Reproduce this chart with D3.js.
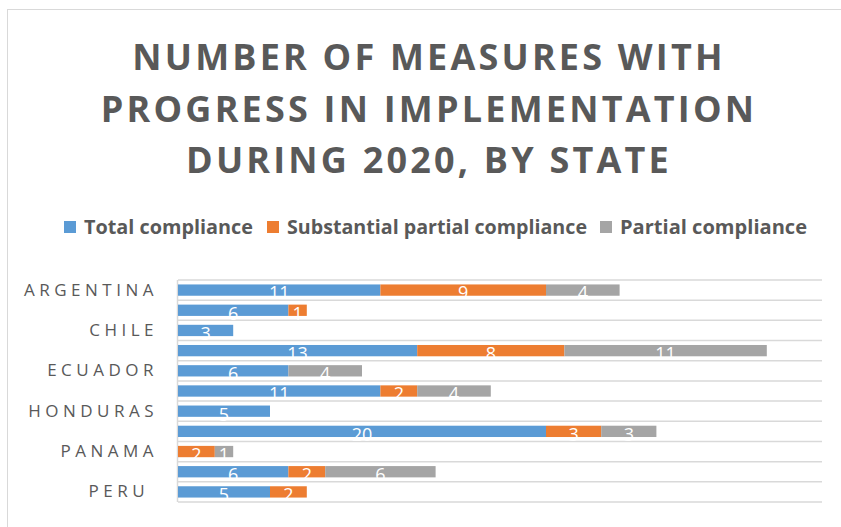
<!DOCTYPE html>
<html>
<head>
<meta charset="utf-8">
<script src="https://cdn.jsdelivr.net/npm/d3@7"></script>
<style>
  body { margin: 0; background: #fff; }
  svg { display: block; font-family: "Open Sans", "Liberation Sans", sans-serif; }
</style>
</head>
<body>
<script>
// données (de haut en bas)
const states = ["Argentina", "Bolivia", "Chile", "Colombia", "Ecuador", "Guatemala",
                "Honduras", "Mexico", "Panama", "Paraguay", "Peru "];
const shownStates = ["Argentina", "Chile", "Ecuador", "Honduras", "Panama", "Peru "];
const totalCompliance       = [11, 6, 3, 13, 6, 11, 5, 20, 0, 6, 5];
const substantialCompliance = [9, 1, 0, 8, 0, 2, 0, 3, 2, 2, 2];
const partialCompliance     = [4, 0, 0, 11, 4, 4, 0, 3, 1, 6, 0];
const seriesNames = ["Total compliance", "Substantial partial compliance", "Partial compliance"];
const seriesColors = ["#5b9bd5", "#ed7d31", "#a5a5a5"];
const titleLines = ["NUMBER OF MEASURES WITH", "PROGRESS IN IMPLEMENTATION", "DURING 2020, BY STATE"];
const xMax = 35;

const width = 841, height = 527;
const margin = { top: 280, right: 19, bottom: 25, left: 178 };

const svg = d3.select("body").append("svg")
    .attr("width", width)
    .attr("height", height);

// cadre du graphique
svg.append("rect")
    .attr("x", 7.5).attr("y", 9.5)
    .attr("width", 900).attr("height", 600)
    .attr("fill", "none")
    .attr("stroke", "#d9d9d9");

// titre
svg.append("text")
    .attr("text-anchor", "middle")
    .attr("fill", "#595959")
    .style("font-weight", "700")
    .style("font-size", "36px")
    .style("letter-spacing", "3.2px")
    .selectAll("tspan")
    .data(titleLines)
    .enter().append("tspan")
    .attr("x", 429)
    .attr("y", (d, i) => 70 + i * 51.5)
    .text(d => d);

// légende
const legendX = [64, 267, 600];
const legendW = [169, 300, 187];
const legend = svg.append("g");
seriesNames.forEach((name, i) => {
    legend.append("rect")
        .attr("x", legendX[i]).attr("y", 221)
        .attr("width", 12).attr("height", 12)
        .attr("fill", seriesColors[i]);
    legend.append("text")
        .attr("x", legendX[i] + 20)
        .attr("y", 234)
        .attr("fill", "#595959")
        .attr("textLength", legendW[i])
        .attr("lengthAdjust", "spacingAndGlyphs")
        .style("font-weight", "700")
        .style("font-size", "19px")
        .text(name);
});

const table = states.map((s, i) => ({
    state: s,
    total: totalCompliance[i],
    substantial: substantialCompliance[i],
    partial: partialCompliance[i]
}));
const keys = ["total", "substantial", "partial"];
const stacked = d3.stack().keys(keys)(table);

const x = d3.scaleLinear()
    .domain([0, xMax])
    .range([margin.left, width - margin.right]);

const y = d3.scaleBand()
    .domain(states)
    .range([margin.top, height - margin.bottom])
    .paddingInner(0.44)
    .paddingOuter(0.22);

// lignes de grille entre les catégories
const step = y.step();
const bounds = states.map(s => y(s) - y.paddingInner() * step / 2);
bounds.push(y(states[states.length - 1]) + y.bandwidth() + y.paddingInner() * step / 2);
svg.append("g")
    .selectAll("line")
    .data(bounds)
    .enter().append("line")
    .attr("x1", x(0)).attr("x2", x(xMax))
    .attr("y1", d => d).attr("y2", d => d)
    .attr("stroke", "#d9d9d9")
    .attr("stroke-width", 1.5);

// axe vertical
svg.append("line")
    .attr("x1", x(0) - 0.5).attr("x2", x(0) - 0.5)
    .attr("y1", bounds[0]).attr("y2", bounds[bounds.length - 1])
    .attr("stroke", "#d9d9d9")
    .attr("stroke-width", 1.5);

// barres
const layers = svg.append("g")
    .selectAll("g")
    .data(stacked)
    .enter().append("g")
    .attr("fill", (d, i) => seriesColors[i]);

layers.selectAll("rect")
    .data(d => d)
    .enter().append("rect")
    .attr("x", d => x(d[0]))
    .attr("y", d => y(d.data.state))
    .attr("width", d => x(d[1]) - x(d[0]))
    .attr("height", y.bandwidth());

// étiquettes de données
layers.selectAll("text")
    .data(d => d.filter(v => v[1] - v[0] > 0))
    .enter().append("text")
    .attr("x", d => (x(d[0]) + x(d[1])) / 2)
    .attr("y", d => y(d.data.state) + 15)
    .attr("text-anchor", "middle")
    .attr("fill", "#fff")
    .style("font-size", "18px")
    .text(d => d[1] - d[0]);

// axe des catégories (une étiquette sur deux)
const yAxis = svg.append("g")
    .attr("transform", "translate(" + (x(0) - 20) + ",0)")
    .call(d3.axisLeft(y).tickSize(0).tickPadding(0)
        .tickFormat(d => shownStates.includes(d) ? d.toUpperCase() : ""));
yAxis.select(".domain").remove();
yAxis.selectAll("text")
    .attr("fill", "#595959")
    .style("white-space", "pre")
    .style("font-family", "\"Open Sans\", sans-serif")
    .style("font-size", "17px")
    .style("letter-spacing", "4.5px");
</script>
</body>
</html>
